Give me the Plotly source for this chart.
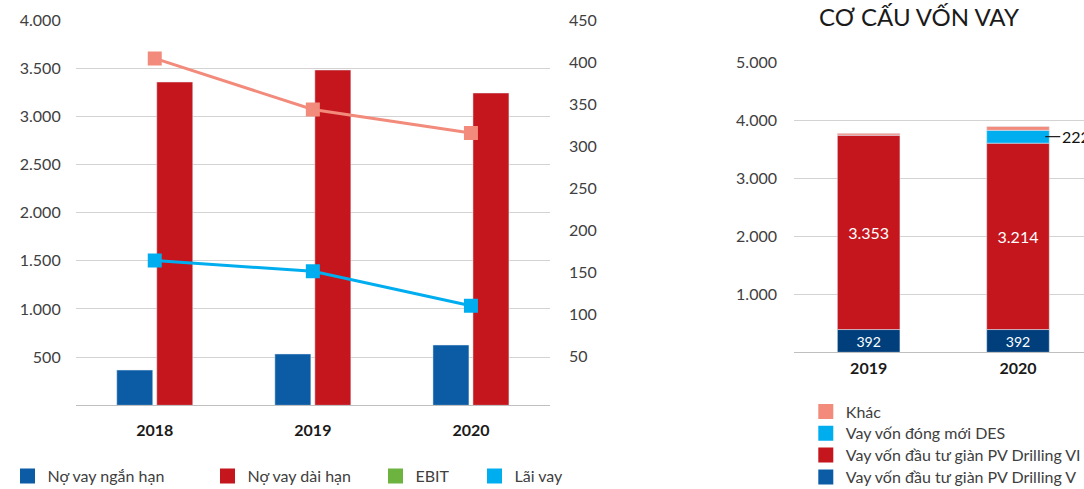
import plotly.graph_objects as go

# ---------------- data ----------------
years_left = ["2018", "2019", "2020"]
short_debt = [366, 533, 626]          # Nợ vay ngắn hạn
long_debt = [3356, 3481, 3242]        # Nợ vay dài hạn
line_pink = [405, 344, 316]           # pink line (secondary axis)
interest = [164, 151, 110]            # Lãi vay (secondary axis)
ebit = [None, None, None]             # EBIT (legend only)

years_right = ["2019", "2020"]
rig_v = [392, 392]                    # Vay vốn đầu tư giàn PV Drilling V
rig_vi = [3353, 3214]                 # Vay vốn đầu tư giàn PV Drilling VI
des = [0, 222]                        # Vay vốn đóng mới DES
other = [30, 65]                      # Khác

left_ticks = [500, 1000, 1500, 2000, 2500, 3000, 3500, 4000]
right_ticks = [50, 100, 150, 200, 250, 300, 350, 400, 450]
stack_ticks = [1000, 2000, 3000, 4000, 5000]

# ---------------- style ----------------
FONT = "Lato"
W, H = 1084, 489
C_BLUE = "#0B5CA5"
C_NAVY = "#003F7B"
C_RED = "#C4161C"
C_PINK = "#F28B7B"
C_CYAN = "#00AEEF"
C_GREEN = "#6DB33F"
GRID = "#D3D3D3"
TXT = "#404040"


def px_x(p):
    return p / W


def px_y(p):
    return 1 - p / H


fig = go.Figure()

# left chart bars
fig.add_trace(go.Bar(x=years_left, y=short_debt, marker_color=C_BLUE, showlegend=False,
                     xaxis="x", yaxis="y"))
fig.add_trace(go.Bar(x=years_left, y=long_debt, marker_color=C_RED, showlegend=False,
                     xaxis="x", yaxis="y"))
# left chart lines (secondary axis)
fig.add_trace(go.Scatter(x=years_left, y=line_pink, mode="lines+markers", showlegend=False,
                         line=dict(color=C_PINK, width=3),
                         marker=dict(symbol="square", size=14, color=C_PINK),
                         xaxis="x", yaxis="y2"))
fig.add_trace(go.Scatter(x=years_left, y=interest, mode="lines+markers", showlegend=False,
                         line=dict(color=C_CYAN, width=3),
                         marker=dict(symbol="square", size=14, color=C_CYAN),
                         xaxis="x", yaxis="y2"))

# right chart stacked bars (manual stacking)
BW = 0.419
segments = [
    (rig_v, C_NAVY, True),
    (rig_vi, C_RED, True),
    (des, C_CYAN, False),
    (other, C_PINK, False),
]
base = [0] * len(years_right)
for vals, col, lab in segments:
    fig.add_trace(go.Bar(
        x=years_right, y=vals, base=list(base), marker_color=col, width=BW, offset=-BW / 2,
        showlegend=False, xaxis="x3", yaxis="y3",
        text=[f"{v:,}".replace(",", ".") for v in vals] if lab else None,
        textposition="inside" if lab else None, insidetextanchor="middle",
        textangle=0, textfont=dict(family=FONT, size=16, color="white"),
        cliponaxis=False,
    ))
    base = [b + v for b, v in zip(base, vals)]

# annotation for DES value with leader line
des_mid = rig_v[1] + rig_vi[1] + des[1] / 2
fig.add_annotation(x=1 + BW / 2 - 0.027, y=des_mid, xref="x3", yref="y3",
                   text=str(des[1]), showarrow=True, arrowhead=0, arrowwidth=1.2,
                   arrowcolor="#222222", ax=15, ay=0, xanchor="left",
                   font=dict(family=FONT, size=16, color="#111111"))

# ---------------- legends (legend-only dummy traces) ----------------
legend_items = [
    # name, color, marker centre x, centre y
    ("Nợ vay ngắn hạn", C_BLUE, 28.5, 476),
    ("Nợ vay dài hạn", C_RED, 228.5, 476),
    ("EBIT", C_GREEN, 396.5, 476),
    ("Lãi vay", C_CYAN, 495.5, 476),
    ("Khác", C_PINK, 826.8, 411.5),
    ("Vay vốn đóng mới DES", C_CYAN, 826.8, 433.3),
    ("Vay vốn đầu tư giàn PV Drilling VI", C_RED, 826.8, 455),
    ("Vay vốn đầu tư giàn PV Drilling V", C_BLUE, 826.8, 477),
]
legend_layout = {}
for i, (name, col, cx, cy) in enumerate(legend_items):
    key = "legend" if i == 0 else f"legend{i + 1}"
    fig.add_trace(go.Bar(x=[None], y=[None], name=name, xaxis="x4", yaxis="y4",
                         marker=dict(color=col, line=dict(color=col, width=3)),
                         legend=key, showlegend=True))
    legend_layout[key] = dict(x=px_x(cx - 21), y=px_y(cy), xanchor="left", yanchor="middle",
                              bgcolor="rgba(0,0,0,0)", borderwidth=0,
                              font=dict(family=FONT, size=16, color=TXT))

fig.update_layout(
    width=W, height=H,
    margin=dict(l=0, r=0, t=0, b=0, pad=0, autoexpand=False),
    paper_bgcolor="white", plot_bgcolor="white",
    separators=",.",
    barmode="group", bargap=0.494, bargroupgap=0.1,
    font=dict(family=FONT, size=16, color=TXT),
    xaxis=dict(domain=[px_x(75.7), px_x(550)], type="category", range=[-0.5, 2.5],
               showgrid=False, showline=True, linecolor="#BFBFBF", linewidth=1,
               ticks="", ticklabelstandoff=10, automargin=False,
               tickfont=dict(family=FONT, size=16, color="#1A1A1A", weight="bold"),
               anchor="y", fixedrange=True),
    yaxis=dict(domain=[px_y(405.3), px_y(20)], range=[0, 4000], tickvals=left_ticks,
               tickformat=",d", showgrid=True, gridcolor=GRID, gridwidth=1,
               zeroline=False, showline=False, ticks="", ticklabelstandoff=14,
               automargin=False,
               tickfont=dict(family=FONT, size=16, color=TXT), anchor="x"),
    yaxis2=dict(overlaying="y", side="right", range=[-8.8, 450.8], tickvals=right_ticks,
                showgrid=False, zeroline=False, showline=False, ticks="",
                ticklabelstandoff=18, automargin=False,
                tickfont=dict(family=FONT, size=16, color=TXT), anchor="x"),
    xaxis3=dict(domain=[px_x(794), 1.0], type="category", range=[-0.5, 1.442],
                showgrid=False, showline=True, linecolor="#BFBFBF", linewidth=1,
                ticks="", ticklabelstandoff=1, automargin=False,
                tickfont=dict(family=FONT, size=16, color="#1A1A1A", weight="bold"),
                anchor="y3"),
    yaxis3=dict(domain=[px_y(352.3), px_y(62.3)], range=[0, 5000], tickvals=stack_ticks,
                tickformat=",d", showgrid=True, gridcolor=GRID, gridwidth=1,
                zeroline=False, showline=False, ticks="", ticklabelstandoff=16,
                automargin=False,
                tickfont=dict(family=FONT, size=16, color=TXT), anchor="x3"),
    xaxis4=dict(domain=[0, 0.01], visible=False, anchor="y4"),
    yaxis4=dict(domain=[0, 0.01], visible=False, anchor="x4"),
    **legend_layout,
)

fig.add_annotation(text="CƠ CẤU VỐN VAY", x=px_x(919), y=px_y(16.7), xref="paper", yref="paper",
                   showarrow=False, xanchor="center", yanchor="middle",
                   font=dict(family=FONT, size=24, color="#1A1A1A"))

# remove the browser's default page margin so the figure sits at the window origin
fig.write_html("out.html", config={"displayModeBar": False},
               post_script="document.body.style.margin='0';")
